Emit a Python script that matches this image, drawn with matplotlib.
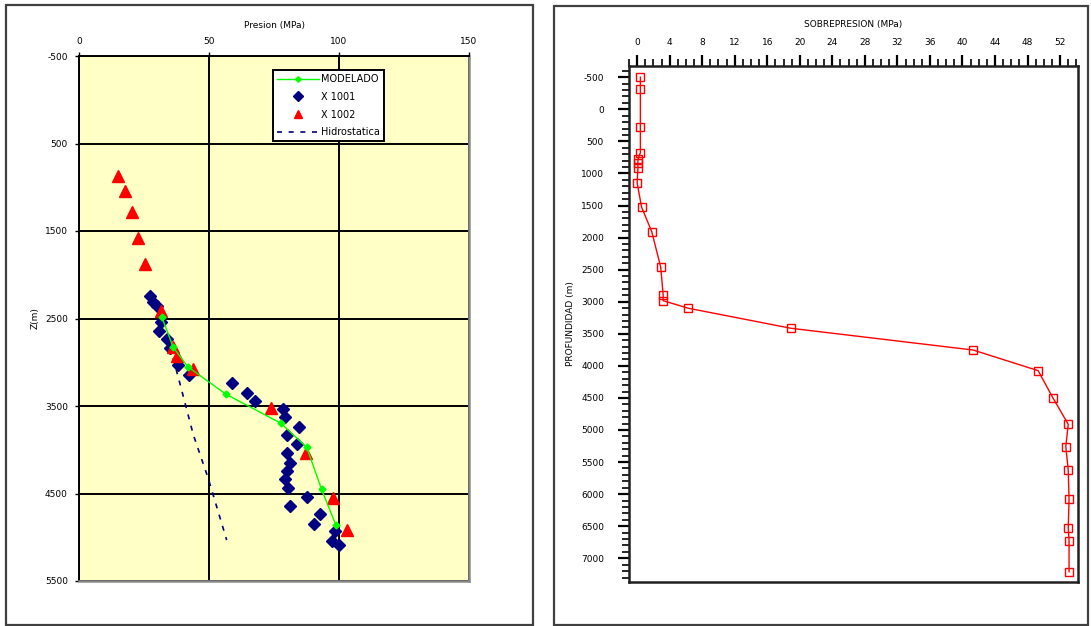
import matplotlib
matplotlib.use('Agg')
import matplotlib.pyplot as plt
from matplotlib.patches import Rectangle
from matplotlib.ticker import MultipleLocator

plt.rcParams['font.family'] = ['DejaVu Sans']
plt.rcParams['axes.unicode_minus'] = False

# --- left chart: pressure vs depth ---
modelado_p = [31.8, 36.2, 41.8, 56.4, 77.7, 87.6, 93.3, 98.8]
modelado_z = [2480, 2826, 3051, 3363, 3698, 3973, 4453, 4861]

x1001_p = [27.3, 28.6, 29.9, 31.5, 30.9, 33.7, 35.0, 38.2, 42.4, 58.7, 64.5, 67.7, 78.3,
           79.2, 84.6, 79.9, 84.0, 79.9, 81.1, 79.9, 79.2, 80.5, 87.6, 81.1, 92.7,
           90.5, 98.5, 97.2, 100.1]
x1001_z = [2240, 2308, 2357, 2537, 2643, 2738, 2837, 3032, 3150, 3241, 3349, 3440, 3535,
           3623, 3737, 3832, 3935, 4034, 4149, 4243, 4338, 4441, 4537, 4643, 4738,
           4849, 4929, 5040, 5089]

x1002_p = [15.0, 17.7, 20.4, 22.7, 25.4, 31.4, 36.0, 37.8, 43.7, 73.8, 87.2, 97.8, 103.0]
x1002_z = [871, 1043, 1283, 1580, 1877, 2410, 2822, 2929, 3077, 3520, 4035, 4555, 4917]

hidro_p = [36.2, 38.8, 44.0, 49.7, 56.8]
hidro_z = [2952, 3241, 3832, 4327, 5032]

# --- right chart: overpressure vs depth ---
sobre_p = [0.4, 0.4, 0.4, 0.4, 0.1, 0.1, 0.1, 0.0, 0.55, 1.8, 2.9, 3.2, 3.2, 6.3, 18.9,
           41.3, 49.3, 51.1, 53.0, 52.7, 53.0, 53.1, 53.0, 53.1, 53.1]
sobre_z = [-500, -321, 276, 677, 780, 842, 920, 1145, 1528, 1908, 2463, 2895, 2984, 3102,
           3414, 3753, 4075, 4496, 4911, 5260, 5623, 6080, 6523, 6725, 7210]

W, H = 1091, 626
fig = plt.figure(figsize=(W / 100, H / 100), dpi=100)

def fx(px):
    return px / W

def fy(py):
    return 1 - py / H

# chart frames
fig.add_artist(Rectangle((fx(6), fy(625)), fx(527), 620 / H, transform=fig.transFigure,
                         fill=False, edgecolor='#404040', linewidth=1.6))
fig.add_artist(Rectangle((fx(554), fy(625)), fx(534), 619 / H, transform=fig.transFigure,
                         fill=False, edgecolor='#404040', linewidth=1.6))

# ---------------- left ----------------
ax1 = fig.add_axes([fx(79), fy(581), fx(390), 525 / H])
ax1.set_facecolor('#FFFFC6')
ax1.set_xlim(0, 150)
ax1.set_ylim(5500, -500)
ax1.xaxis.tick_top()
ax1.xaxis.set_label_position('top')
ax1.set_xticks([0, 50, 100, 150])
ax1.set_yticks(range(-500, 5501, 1000))
ax1.grid(True, color='black', linewidth=1.4)
ax1.set_axisbelow(True)
ax1.tick_params(labelsize=6.5, length=3, width=1)
ax1.tick_params(axis='x', pad=4.5)
ax1.tick_params(axis='y', pad=5)
for side in ['left', 'top']:
    ax1.spines[side].set_color('black')
    ax1.spines[side].set_linewidth(1.4)
for side in ['right', 'bottom']:
    ax1.spines[side].set_color('#8a8a8a')
    ax1.spines[side].set_linewidth(1.8)

ax1.plot(hidro_p, hidro_z, color='#000080', linestyle=(0, (3, 4)), linewidth=1.2,
         label='Hidrostatica', zorder=3)
ax1.plot(x1001_p, x1001_z, linestyle='none', marker='D', markersize=6.5,
         color='#000080', label='X 1001', zorder=4)
ax1.plot(x1002_p, x1002_z, linestyle='none', marker='^', markersize=8,
         color='red', label='X 1002', zorder=5)
ax1.plot(modelado_p, modelado_z, color='#00FF00', linewidth=1, marker='D', markersize=3.5,
         label='MODELADO', zorder=6)

handles, labels = ax1.get_legend_handles_labels()
order = [3, 1, 2, 0]
leg = ax1.legend([handles[i] for i in order], [labels[i] for i in order],
                 loc='upper left', bbox_to_anchor=(0.497, 0.973), fontsize=7,
                 fancybox=False, framealpha=1, edgecolor='black', borderpad=0.4,
                 labelspacing=0.8, handlelength=4.4, handletextpad=0.2,
                 borderaxespad=0, markerscale=0.8)
leg.get_frame().set_linewidth(1.4)

ax1.set_xlabel('Presion (MPa)', fontsize=6.5, labelpad=6.5)
ax1.set_ylabel('Z(m)', fontsize=6.5, labelpad=4)

# ---------------- right ----------------
ax2 = fig.add_axes([fx(629), fy(582), fx(449), 516 / H])
ax2.set_xlim(-1, 54.2)
ax2.set_ylim(7370, -675)
ax2.xaxis.tick_top()
ax2.xaxis.set_label_position('top')
ax2.set_xticks(range(0, 53, 4))
ax2.xaxis.set_minor_locator(MultipleLocator(1))
ax2.set_yticks(range(-500, 7001, 500))
ax2.yaxis.set_minor_locator(MultipleLocator(100))
ax2.tick_params(which='major', direction='out', length=8, width=1.6, labelsize=6.5)
ax2.tick_params(which='minor', direction='out', length=5, width=1.2)
ax2.tick_params(axis='x', pad=6)
ax2.tick_params(axis='y', pad=10)
for side in ax2.spines:
    ax2.spines[side].set_linewidth(1.8)
    ax2.spines[side].set_color('#202020')

ax2.plot(sobre_p, sobre_z, color='red', linewidth=1, marker='s', markersize=5.5,
         markerfacecolor='none', markeredgecolor='red', markeredgewidth=1)

ax2.set_xlabel('SOBREPRESION (MPa)', fontsize=6.5, labelpad=7.5)
ax2.set_ylabel('PROFUNDIDAD (m)', fontsize=6.5, labelpad=4)

fig.savefig('out.png', dpi=100)
